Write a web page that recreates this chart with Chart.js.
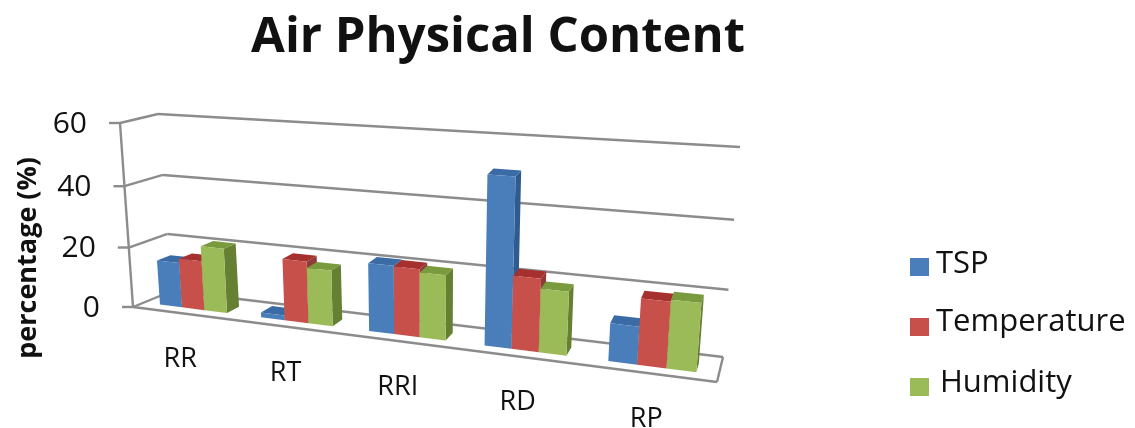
<!DOCTYPE html>
<html>
<head>
<meta charset="utf-8">
<style>
  html, body { margin: 0; padding: 0; background: #fff; }
  canvas { display: block; }
</style>
<script src="https://cdn.jsdelivr.net/npm/chart.js@4"></script>
</head>
<body>
<canvas id="chart" width="1135" height="428"></canvas>
<script>
const categories = ['RR', 'RT', 'RRI', 'RD', 'RP']
const tsp = [15, 1.6, 21.6, 51.5, 11.4]
const temperature = [16.4, 20, 21.4, 22.4, 19.7]
const humidity = [21.3, 18, 20.4, 19.4, 20.3]

const FONT = '"Open Sans", sans-serif'
const LINE = '#8c8c8c'
const COLORS = {
  TSP: { front: '#4a7ebb', top: '#3a6ba5', side: '#2f5b8f' },
  Temperature: { front: '#c8504b', top: '#a5302e', side: '#8e3b38' },
  Humidity: { front: '#9bbb59', top: '#7a9a3e', side: '#658032' }
}

// wall corners on screen: bottom left, bottom right, top right, top left
const FRONT_WALL = [[133, 307], [717, 382], [734, 167], [120, 123]]
const BACK_WALL = [[172, 291], [723, 357], [740, 147], [158, 114]]
const BAR_DEPTH = [0.28, 0.64]

function homography(q) {
  const [[x0, y0], [x1, y1], [x2, y2], [x3, y3]] = q
  const dx1 = x1 - x2
  const dx2 = x3 - x2
  const sx = x0 - x1 + x2 - x3
  const dy1 = y1 - y2
  const dy2 = y3 - y2
  const sy = y0 - y1 + y2 - y3
  const den = dx1 * dy2 - dx2 * dy1
  const g = (sx * dy2 - dx2 * sy) / den
  const h = (dx1 * sy - sx * dy1) / den
  const a = x1 - x0 + g * x1
  const b = x3 - x0 + h * x3
  const d = y1 - y0 + g * y1
  const e = y3 - y0 + h * y3
  return (u, v) => {
    const w = g * u + h * v + 1
    return [(a * u + b * v + x0) / w, (d * u + e * v + y0) / w]
  }
}
const frontWall = homography(FRONT_WALL)
const backWall = homography(BACK_WALL)

// u along the categories, v up the values, depth 0 front .. 1 back
function project(u, v, depth) {
  const f = frontWall(u, v)
  const b = backWall(u, v)
  return [f[0] + (b[0] - f[0]) * depth, f[1] + (b[1] - f[1]) * depth]
}

function quad(ctx, pts, color) {
  ctx.beginPath()
  pts.forEach((p, i) => (i ? ctx.lineTo(p[0], p[1]) : ctx.moveTo(p[0], p[1])))
  ctx.closePath()
  ctx.fillStyle = color
  ctx.fill()
}

function segment(ctx, a, b) {
  ctx.beginPath()
  ctx.moveTo(a[0], a[1])
  ctx.lineTo(b[0], b[1])
  ctx.stroke()
}

function drawBar(ctx, area, bar, colors) {
  const [d0, d1] = BAR_DEPTH
  const p = bar.getProps(['x', 'y', 'base', 'width'], true)
  const u0 = (p.x - p.width / 2 - area.left) / area.width
  const u1 = (p.x + p.width / 2 - area.left) / area.width
  const v0 = (area.bottom - p.base) / area.height
  const v1 = (area.bottom - p.y) / area.height
  quad(ctx, [project(u1, v0, d0), project(u1, v0, d1), project(u1, v1, d1), project(u1, v1, d0)], colors.side)
  quad(ctx, [project(u0, v1, d0), project(u1, v1, d0), project(u1, v1, d1), project(u0, v1, d1)], colors.top)
  quad(ctx, [project(u0, v0, d0), project(u1, v0, d0), project(u1, v1, d0), project(u0, v1, d0)], colors.front)
}

const perspective = {
  id: 'perspective',
  beforeDatasetsDraw(chart) {
    const ctx = chart.ctx
    const y = chart.scales.y
    const area = chart.chartArea
    ctx.save()
    ctx.strokeStyle = LINE
    ctx.lineWidth = 2.4
    // floor
    segment(ctx, project(0, 0, 0), project(1, 0, 0))
    segment(ctx, project(1, 0, 0), project(1, 0, 1))
    segment(ctx, project(1, 0, 1), project(0, 0, 1))
    segment(ctx, project(0, 0, 0), project(0, 0, 1))
    // left edge of the wall
    segment(ctx, project(0, 0, 0), project(0, 1, 0))
    ctx.fillStyle = '#111'
    ctx.font = '30px ' + FONT
    ctx.textAlign = 'right'
    ctx.textBaseline = 'middle'
    y.ticks.forEach(t => {
      const v = (area.bottom - y.getPixelForValue(t.value)) / area.height
      const p = project(0, v, 0)
      segment(ctx, [p[0] - 11, p[1]], p)
      if (v > 0) {
        segment(ctx, p, project(0, v, 1))
        segment(ctx, project(0, v, 1), project(1, v, 1))
      }
      ctx.fillText(t.label, p[0] - 33, p[1] + 1)
    })
    ctx.restore()
    // bars go left to right so each one covers the side of the one before
    chart.data.labels.forEach((c, i) => {
      chart.data.datasets.forEach((ds, j) => {
        drawBar(ctx, area, chart.getDatasetMeta(j).data[i], COLORS[ds.label])
      })
    })
  },
  beforeDatasetDraw() {
    return false
  },
  afterDraw(chart) {
    const ctx = chart.ctx
    const x = chart.scales.x
    const area = chart.chartArea
    ctx.save()
    ctx.fillStyle = '#111'
    ctx.font = '27px ' + FONT
    ctx.textAlign = 'center'
    ctx.textBaseline = 'middle'
    categories.forEach((c, i) => {
      const p = project((x.getPixelForValue(i) - area.left) / area.width, 0, 0)
      ctx.fillText(c, p[0] - 3, p[1] + 46)
    })
    // legend
    ctx.textAlign = 'left'
    ctx.font = '31px ' + FONT
    const boxTop = [258, 318, 378]
    const textY = [264, 322, 383]
    const textX = [936, 936, 940]
    chart.data.datasets.forEach((ds, i) => {
      ctx.fillStyle = COLORS[ds.label].front
      ctx.fillRect(910, boxTop[i], 19, 18)
      ctx.fillStyle = '#111'
      ctx.fillText(ds.label, textX[i], textY[i])
    })
    ctx.restore()
  }
}

new Chart(document.getElementById('chart').getContext('2d'), {
  type: 'bar',
  data: {
    labels: categories,
    datasets: [
      { label: 'TSP', data: tsp, backgroundColor: COLORS.TSP.front },
      { label: 'Temperature', data: temperature, backgroundColor: COLORS.Temperature.front },
      { label: 'Humidity', data: humidity, backgroundColor: COLORS.Humidity.front }
    ]
  },
  plugins: [perspective],
  options: {
    responsive: false,
    animation: false,
    devicePixelRatio: 1,
    layout: { padding: { right: 264, bottom: 24 } },
    datasets: { bar: { categoryPercentage: 0.67, barPercentage: 1 } },
    plugins: {
      legend: { display: false },
      tooltip: { enabled: false },
      title: {
        display: true,
        fullSize: false,
        text: 'Air Physical Content',
        color: '#111',
        font: { family: FONT, size: 49, weight: 'bold' },
        padding: { top: 9, bottom: 52 }
      }
    },
    scales: {
      x: {
        grid: { display: false },
        border: { display: false },
        ticks: { display: false }
      },
      y: {
        min: 0,
        max: 60,
        afterFit(scale) { scale.width = 125 },
        grid: { display: false },
        border: { display: false },
        ticks: { display: false, stepSize: 20 },
        title: {
          display: true,
          text: 'percentage (%)',
          color: '#111',
          font: { family: FONT, size: 27, weight: 'bold' },
          padding: { top: 12, bottom: 0 }
        }
      }
    }
  }
})
</script>
</body>
</html>
